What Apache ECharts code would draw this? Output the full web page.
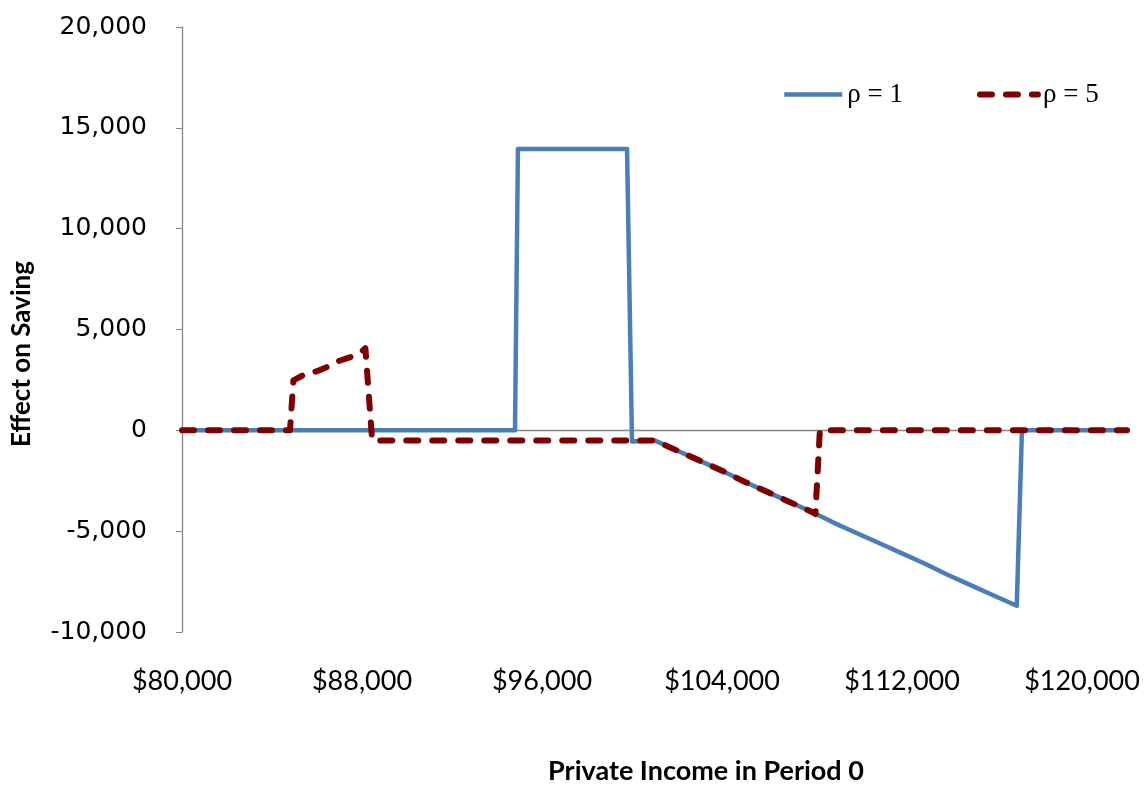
<!DOCTYPE html>
<html>
<head>
<meta charset="utf-8">
<script src="https://cdn.jsdelivr.net/npm/echarts@6/dist/echarts.min.js"></script>
<style>
html,body{margin:0;padding:0;background:#fff;}
#chart{width:1144px;height:788px;}
</style>
</head>
<body>
<div id="chart"></div>
<script>
// Private income (x) and effect on saving (y) for each series
const incomeRho1 = [80000, 94800, 94930, 99780, 100000, 101000, 102000, 103000, 104000, 105000, 106000, 107000, 108000, 109000, 110000, 111000, 112000, 113000, 114000, 115000, 116000, 117100, 117330, 122000];
const savingRho1 = [0, 0, 13950, 13950, -550, -500, -1000, -1500, -2000, -2550, -3050, -3550, -4050, -4600, -5100, -5600, -6100, -6600, -7150, -7650, -8150, -8700, 0, 0];

const incomeRho5 = [80000, 84800, 84950, 85500, 86000, 86500, 87000, 87500, 88000, 88150, 88450, 101000, 102000, 103000, 104000, 105000, 106000, 107000, 108000, 108150, 108350, 122000];
const savingRho5 = [0, 0, 2480, 2800, 2930, 3170, 3450, 3640, 3920, 4070, -500, -500, -1000, -1500, -2000, -2550, -3050, -3550, -4050, -4150, 0, 0];

const seriesNames = ['ρ = 1', 'ρ = 5'];
const xTicks = [80000, 88000, 96000, 104000, 112000, 120000];
const yTicks = [-10000, -5000, 0, 5000, 10000, 15000, 20000];
const xTitle = 'Private Income in Period 0';
const yTitle = 'Effect on Saving';

function pairs(xs, ys) { return xs.map((x, i) => [x, ys[i]]); }
function fmtThousands(v) { return String(Math.abs(v)).replace(/\B(?=(\d{3})+(?!\d))/g, ','); }

const chart = echarts.init(document.getElementById('chart'), null, {renderer: 'canvas'});
const gray = '#868686';
chart.setOption({
  animation: false,
  backgroundColor: '#fff',
  grid: {left: 182, right: 17, top: 27, bottom: 156},
  legend: {
    left: 777, top: 76,
    itemWidth: 58, itemHeight: 14, itemGap: 74,
    data: seriesNames,
    textStyle: {fontFamily: 'Liberation Serif', fontSize: 27, color: '#000', padding: [14, 0, 0, 0]},
    itemStyle: {opacity: 0},
    lineStyle: {width: 'inherit'}
  },
  xAxis: [{
    type: 'value', min: xTicks[0], max: 122000, interval: 8000,
    axisLine: {show: true, onZero: true, lineStyle: {color: gray, width: 1.3}},
    axisTick: {show: false}, axisLabel: {show: false}, splitLine: {show: false}
  }, {
    type: 'value', min: xTicks[0], max: 122000, interval: 8000, position: 'bottom',
    axisLine: {show: false, onZero: false}, axisTick: {show: false}, splitLine: {show: false},
    axisLabel: {
      margin: 36, fontFamily: 'Lato', fontSize: 27, color: '#000',
      formatter: v => xTicks.indexOf(v) >= 0 ? '$' + fmtThousands(v) : ''
    }
  }],
  yAxis: {
    type: 'value', min: yTicks[0], max: yTicks[yTicks.length - 1], interval: 5000,
    axisLine: {show: true, lineStyle: {color: gray, width: 1.3}},
    axisTick: {show: true, length: 6, lineStyle: {color: gray}},
    splitLine: {show: false},
    axisLabel: {
      margin: 35, fontFamily: 'DejaVu Sans', fontSize: 25, color: '#000',
      formatter: v => (v < 0 ? '-' : '') + fmtThousands(v)
    }
  },
  graphic: [
    {type: 'text', x: 22, y: 354, rotation: Math.PI / 2,
     style: {text: yTitle, fontFamily: 'Lato', fontWeight: 'bold', fontSize: 26, fill: '#000', align: 'center', verticalAlign: 'middle', textAlign: 'center', textVerticalAlign: 'middle'}},
    {type: 'text', x: 706, y: 771,
     style: {text: xTitle, fontFamily: 'Lato', fontWeight: 'bold', fontSize: 27, fill: '#000', align: 'center', verticalAlign: 'middle', textAlign: 'center', textVerticalAlign: 'middle'}}
  ],
  series: [{
    name: seriesNames[0], type: 'line', xAxisIndex: 0, symbol: 'none', showSymbol: false,
    data: pairs(incomeRho1, savingRho1),
    lineStyle: {color: '#4A7EBB', width: 4.5, join: 'round'},
    itemStyle: {color: '#4A7EBB'}, z: 3
  }, {
    name: seriesNames[1], type: 'line', xAxisIndex: 0, symbol: 'none', showSymbol: false,
    data: pairs(incomeRho5, savingRho5),
    lineStyle: {color: '#7F0000', width: 6, type: [12, 14], cap: 'round', join: 'round'},
    itemStyle: {color: '#7F0000'}, z: 4
  }]
});
</script>
</body>
</html>
